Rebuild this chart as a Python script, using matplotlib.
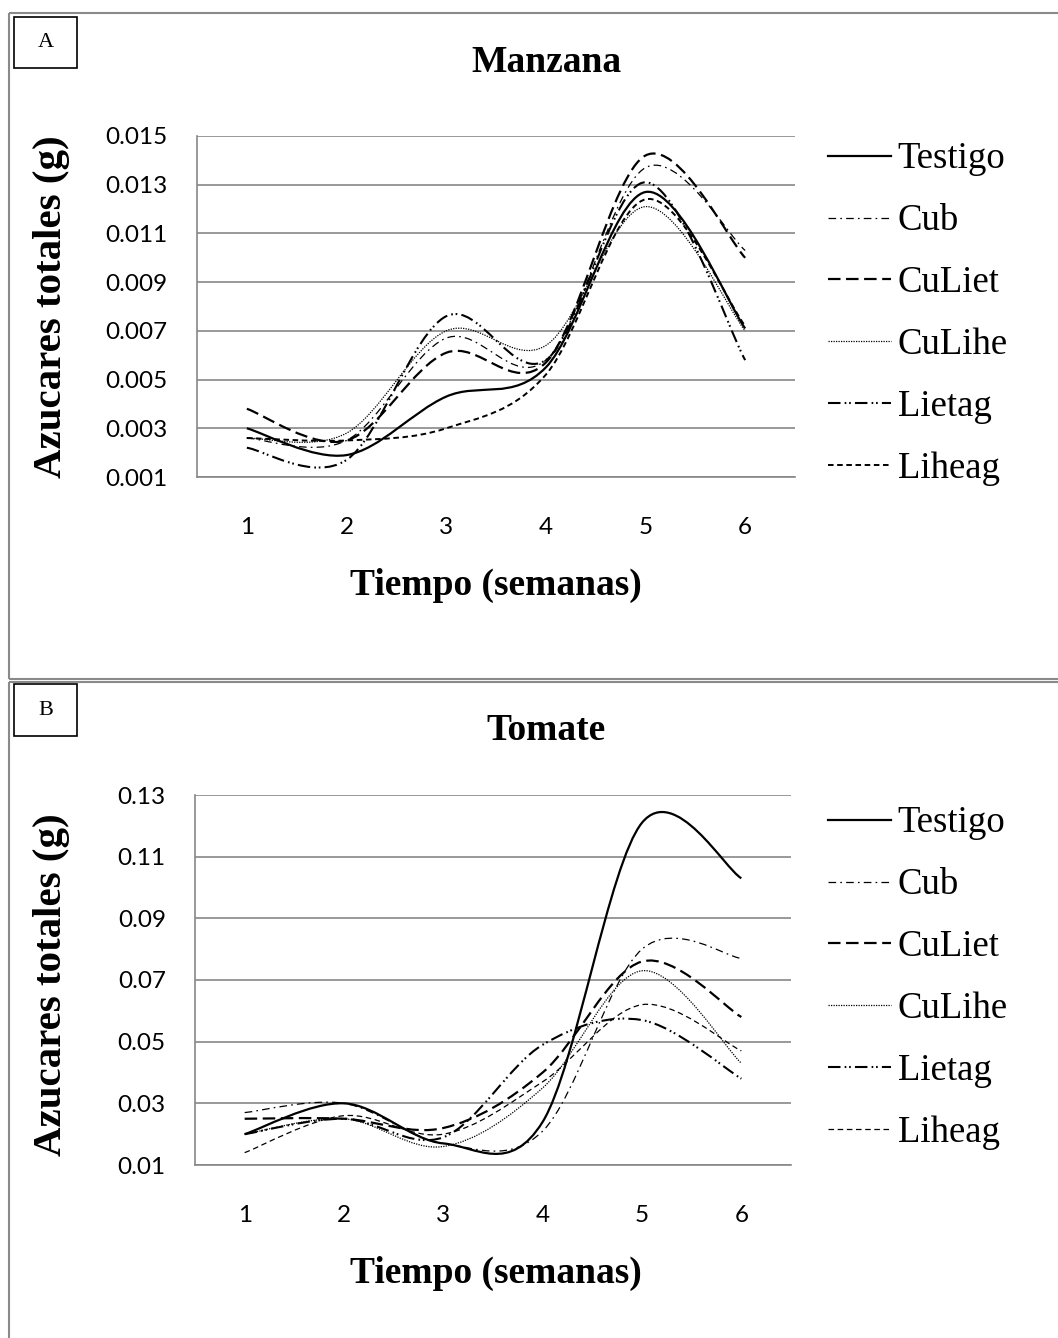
import numpy as np
import matplotlib
matplotlib.use("Agg")
import matplotlib.pyplot as plt
from matplotlib.path import Path
from matplotlib.patches import PathPatch, Rectangle
from matplotlib.lines import Line2D

plt.rcParams['lines.scale_dashes'] = False

# ---- data -------------------------------------------------------------
weeks = [1, 2, 3, 4, 5, 6]
series_names = ["Testigo", "Cub", "CuLiet", "CuLihe", "Lietag", "Liheag"]

# Manzana (g)
manzana_testigo = [0.0030, 0.0019, 0.0043, 0.0055, 0.0127, 0.0071]
manzana_cub     = [0.0026, 0.0025, 0.0067, 0.0058, 0.0137, 0.0103]
manzana_culiet  = [0.0038, 0.0025, 0.0061, 0.0057, 0.0142, 0.0100]
manzana_culihe  = [0.0026, 0.0028, 0.0070, 0.0064, 0.0121, 0.0070]
manzana_lietag  = [0.0022, 0.0017, 0.0076, 0.0058, 0.0131, 0.0058]
manzana_liheag  = [0.0026, 0.0025, 0.0030, 0.0052, 0.0124, 0.0072]

# Tomate (g)
tomate_testigo = [0.020, 0.030, 0.017, 0.024, 0.121, 0.103]
tomate_cub     = [0.027, 0.030, 0.017, 0.021, 0.080, 0.077]
tomate_culiet  = [0.025, 0.025, 0.022, 0.040, 0.076, 0.058]
tomate_culihe  = [0.020, 0.025, 0.016, 0.035, 0.073, 0.043]
tomate_lietag  = [0.020, 0.025, 0.019, 0.049, 0.057, 0.038]
tomate_liheag  = [0.014, 0.026, 0.020, 0.037, 0.062, 0.047]

ticks_manzana = [0.001, 0.003, 0.005, 0.007, 0.009, 0.011, 0.013, 0.015]
ticks_tomate = [0.01, 0.03, 0.05, 0.07, 0.09, 0.11, 0.13]

# ---- styles -----------------------------------------------------------
styles = {
    "Testigo": dict(ls="-", lw=1.6),
    "Cub":     dict(ls=(0, (5.5, 3, 1.2, 3)), lw=0.9),
    "CuLiet":  dict(ls=(0, (9, 4)), lw=1.6),
    "CuLihe":  dict(ls=(0, (0.9, 0.9)), lw=0.9),
    "Lietag":  dict(ls=(0, (9, 3, 1.2, 2, 1.2, 3)), lw=1.5),
    "Liheag":  dict(ls=(0, (4, 2.6)), lw=1.3),
}

W, H = 1058, 1338
fig = plt.figure(figsize=(W / 100, H / 100), dpi=100)

SERIF = "Liberation Serif"
SANS = "Lato"


def fx(px):
    return px / W


def fy(py):
    return 1 - py / H


def smooth_path(x, y):
    """Cubic Bezier path through the points (Excel-style smoothed line)."""
    x = np.asarray(x, float)
    y = np.asarray(y, float)
    n = len(x)
    verts = [(x[0], y[0])]
    codes = [Path.MOVETO]
    for i in range(n - 1):
        p0 = max(i - 1, 0)
        p3 = min(i + 2, n - 1)
        c1 = (x[i] + (x[i + 1] - x[p0]) / 6, y[i] + (y[i + 1] - y[p0]) / 6)
        c2 = (x[i + 1] - (x[p3] - x[i]) / 6, y[i + 1] - (y[p3] - y[i]) / 6)
        verts += [c1, c2, (x[i + 1], y[i + 1])]
        codes += [Path.CURVE4] * 3
    return Path(verts, codes)


def panel(rect_px, data, ticks, fmt, title, title_y, xlabel_y, ylabel_xy,
          legend_top, liheag_lw):
    left, top, right, bottom = rect_px
    ax = fig.add_axes([fx(left), fy(bottom), fx(right - left), (bottom - top) / H])
    for name, vals in zip(series_names, data):
        st = dict(styles[name])
        if name == "Liheag":
            st["lw"] = liheag_lw
        patch = PathPatch(smooth_path(weeks, vals), fill=False, edgecolor="black",
                          linestyle=st["ls"], linewidth=st["lw"],
                          capstyle="butt", joinstyle="round")
        ax.add_patch(patch)
    ax.set_xlim(0.5, 6.5)
    ax.set_ylim(ticks[0], ticks[-1])
    ax.set_xticks(weeks)
    ax.set_xticklabels([str(w) for w in weeks])
    ax.set_yticks(ticks)
    ax.set_yticklabels([fmt.format(t) for t in ticks])
    ax.tick_params(length=0, labelsize=17.5)
    ax.tick_params(axis="y", pad=21)
    ax.tick_params(axis="x", pad=29)
    for lab in ax.get_xticklabels() + ax.get_yticklabels():
        lab.set_family(SANS)
    ax.grid(axis="y", color="#878787", lw=1.2)
    ax.set_axisbelow(True)
    for side in ("top", "right"):
        ax.spines[side].set_visible(False)
    for side in ("left", "bottom"):
        ax.spines[side].set_color("#878787")
        ax.spines[side].set_linewidth(1.2)

    fig.text(fx(546), fy(title_y), title, family=SERIF, weight="bold",
             fontsize=27, ha="center", va="center")
    fig.text(fx(496), fy(xlabel_y), "Tiempo (semanas)", family=SERIF,
             weight="bold", fontsize=27, ha="center", va="center")
    fig.text(fx(ylabel_xy[0]), fy(ylabel_xy[1]), "Azucares totales (g)",
             family=SERIF, weight="bold", fontsize=29.5, rotation=90,
             ha="center", va="center")

    handles = []
    for name in series_names:
        st = dict(styles[name])
        if name == "Liheag":
            st["lw"] = liheag_lw
        handles.append(Line2D([], [], color="black", linestyle=st["ls"],
                              linewidth=st["lw"], dash_capstyle="butt"))
    fig.legend(handles, series_names, loc="upper left",
               bbox_to_anchor=(fx(828), fy(legend_top)), frameon=False,
               prop=dict(family=SERIF, size=26.5), handlelength=1.7,
               handletextpad=0.19, labelspacing=0.745, borderaxespad=0,
               borderpad=0)
    return ax


manzana = [manzana_testigo, manzana_cub, manzana_culiet, manzana_culihe,
           manzana_lietag, manzana_liheag]
tomate = [tomate_testigo, tomate_cub, tomate_culiet, tomate_culihe,
          tomate_lietag, tomate_liheag]

panel((197, 136, 795, 477), manzana, ticks_manzana, "{:.3f}", "Manzana",
      63, 585, (52, 307), 142, 1.4)
panel((195, 795, 791, 1165), tomate, ticks_tomate, "{:.2f}", "Tomate",
      731, 1273, (52, 985), 806, 0.9)

# ---- panel frames and letter boxes ------------------------------------
frame_col = "#8a8a8a"
for seg in [((9, 13), (W, 13)), ((9, 13), (9, 679)), ((9, 679), (W, 679)),
            ((9, 682), (W, 682)), ((9, 682), (9, H))]:
    (x0, y0), (x1, y1) = seg
    fig.add_artist(Line2D([fx(x0), fx(x1)], [fy(y0), fy(y1)], color=frame_col,
                          lw=1.5, solid_capstyle="butt"))

for letter, (bx0, by0, bx1, by1) in [("A", (14, 17, 77, 68)), ("B", (14, 684, 77, 736))]:
    fig.add_artist(Rectangle((fx(bx0), fy(by1)), fx(bx1 - bx0), (by1 - by0) / H,
                             fill=False, edgecolor="black", lw=1.2))
    fig.text(fx((bx0 + bx1) / 2), fy((by0 + by1) / 2), letter, family=SERIF,
             fontsize=16, ha="center", va="center")

fig.savefig("out.png", dpi=100, facecolor="white")
